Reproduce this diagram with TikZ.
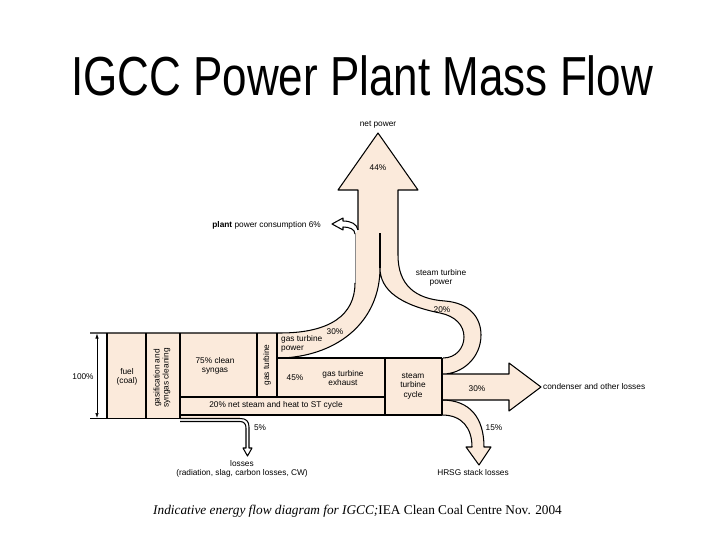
\documentclass[tikz,border=0pt]{standalone}
\usepackage{fontspec}
\usepackage{graphicx}
\setmainfont{Liberation Sans}
\newfontfamily\serifcap{Liberation Serif}
\usetikzlibrary{arrows.meta}
\definecolor{peach}{RGB}{251,234,219}
\begin{document}
\begin{tikzpicture}[x=1pt,y=-1pt, line join=round,
  lbl/.style={font=\fontsize{8.3}{9.2}\selectfont, inner sep=0pt, align=center},
  outl/.style={draw=black, line width=1.05pt}]
\useasboundingbox (0,0) rectangle (720,540);
\fill[white] (0,0) rectangle (720,540);

% ---------- fills ----------
\fill[peach] (107,333) rectangle (240,418.5);
\fill[peach] (240,333) rectangle (277,415);
\fill[peach] (277,358) rectangle (442,415);
\fill[peach] (277,333) -- (280,333) .. controls (330,333) and (355,315) .. (355,283)
  -- (355,234) -- (358,230) -- (358,190) -- (338,190) -- (378,133) -- (418,190) -- (398,190)
  -- (398,255) .. controls (398,285) and (415,299) .. (445,301)
  .. controls (470,303) and (481,318) .. (481,335)
  .. controls (481,358) and (462,374) .. (443,374) -- (443,358)
  .. controls (456,358) and (464,348) .. (464,337)
  .. controls (464,325) and (455,316) .. (440,313)
  .. controls (400,305) and (380,290) .. (380,268)
  .. controls (380,320) and (340,355) .. (283,358) -- (277,358) -- cycle;
\fill[peach] (442,374) -- (509,374) -- (509,363) -- (541,387) -- (509,411) -- (509,400) -- (442,400) -- cycle;
\fill[peach] (442,400) .. controls (470,400) and (484,418) .. (484,447) -- (491,447) -- (479,465)
  -- (466,447) -- (472,447) .. controls (472,428) and (462,415) .. (442,415) -- cycle;

% ---------- outlines ----------
\draw[outl] (90,333) -- (280,333) .. controls (330,333) and (355,315) .. (355,283);
\draw[line width=0.6pt, black!45] (355,283) -- (355,234);
\draw[outl, fill=white] (358,230) .. controls (357,224) and (351,221) .. (343,221) -- (343,218)
  -- (332,224) -- (343,230) -- (343,227) .. controls (349,227) and (355,229) .. (355,234);
\draw[outl] (358,230) -- (358,190) -- (338,190) -- (378,133) -- (418,190) -- (398,190)
  -- (398,255) .. controls (398,285) and (415,299) .. (445,301)
  .. controls (470,303) and (481,318) .. (481,335)
  .. controls (481,358) and (462,374) .. (443,374)
  -- (509,374) -- (509,363) -- (541,387) -- (509,411) -- (509,400) -- (442,400);
\draw[outl] (442,400) .. controls (470,400) and (484,418) .. (484,447) -- (491,447) -- (479,465)
  -- (466,447) -- (472,447) .. controls (472,428) and (462,415) .. (442,415);
\draw[outl] (443,358) .. controls (456,358) and (464,348) .. (464,337)
  .. controls (464,325) and (455,316) .. (440,313)
  .. controls (400,305) and (380,290) .. (380,268)
  .. controls (380,320) and (340,355) .. (283,358);
\draw[outl] (380,233) -- (380,268);

\draw[outl] (107,333) -- (107,418.5);
\draw[outl] (146,333) -- (146,418.5);
\draw[outl] (180,333) -- (180,418.5);
\draw[outl] (257,333) -- (257,397);
\draw[outl] (277,333) -- (277,397);
\draw[outl] (180,397) -- (385,397);
\draw[outl] (277,358) -- (442,358);
\draw[outl] (385,358) -- (385,415);
\draw[outl] (442,358) -- (442,415);
\draw[outl] (180,415) -- (442,415);
\draw[outl] (90,418.5) -- (180,418.5);
\draw[outl, fill=white] (180,418.5) -- (240,418.5) .. controls (246,418.5) and (249,421) .. (249,427)
  -- (249,448) -- (252,448) -- (247.5,456) -- (243,448) -- (246,448) -- (246,428)
  .. controls (246,424) and (244,421.5) .. (240,421.5) -- (180,421.5);

\draw[line width=0.7pt, {Latex[length=5pt,width=3.5pt]}-{Latex[length=5pt,width=3.5pt]}] (97,333.5) -- (97,418);

% ---------- labels ----------
\node[anchor=base, font=\fontsize{55}{60}\selectfont, inner sep=0pt] (title) at (362,96) {\scalebox{0.8}[1]{IGCC Power Plant Mass Flow}};
\node[lbl] (netpower) at (378,125) {net power};
\node[lbl] (p44) at (378,168) {44\%};
\node[lbl, anchor=east] (plant) at (321,225) {\textbf{plant} power consumption 6\%};
\node[lbl] (stpower) at (441,278) {steam turbine\\power};
\node[lbl] (p20a) at (442,310) {20\%};
\node[lbl] (p30a) at (335,332) {30\%};
\node[lbl, anchor=west, align=left] (gtpower) at (281,344) {gas turbine\\power};
\node[lbl] (p100) at (83,377) {100\%};
\node[lbl] (fuel) at (127,377) {fuel\\(coal)};
\node[lbl, rotate=90] (gasif) at (162,378) {gasification and\\syngas cleaning};
\node[lbl] (syngas) at (215,366) {75\% clean\\syngas};
\node[lbl, rotate=90] (gt) at (267,365) {gas turbine};
\node[lbl] (p45) at (295,378) {45\%};
\node[lbl] (gtex) at (343,378) {gas turbine\\exhaust};
\node[lbl] (netsteam) at (276,405) {20\% net steam and heat to ST cycle};
\node[lbl] (stc) at (413,386) {steam\\turbine\\cycle};
\node[lbl] (p30b) at (477,389) {30\%};
\node[lbl, anchor=west] (cond) at (543,387) {condenser and other losses};
\node[lbl] (p15) at (494,428) {15\%};
\node[lbl] (hrsg) at (473,473) {HRSG stack losses};
\node[lbl] (p5) at (260,428) {5\%};
\node[lbl] (losses) at (242,469) {losses\\(radiation, slag, carbon losses, CW)};
\node[anchor=base west, inner sep=0pt, font=\serifcap\fontsize{13.3}{15}\selectfont] (cap) at (153,514)
  {\itshape Indicative energy flow diagram for IGCC;\upshape IEA Clean Coal Centre Nov. 2004};
\end{tikzpicture}
\end{document}
